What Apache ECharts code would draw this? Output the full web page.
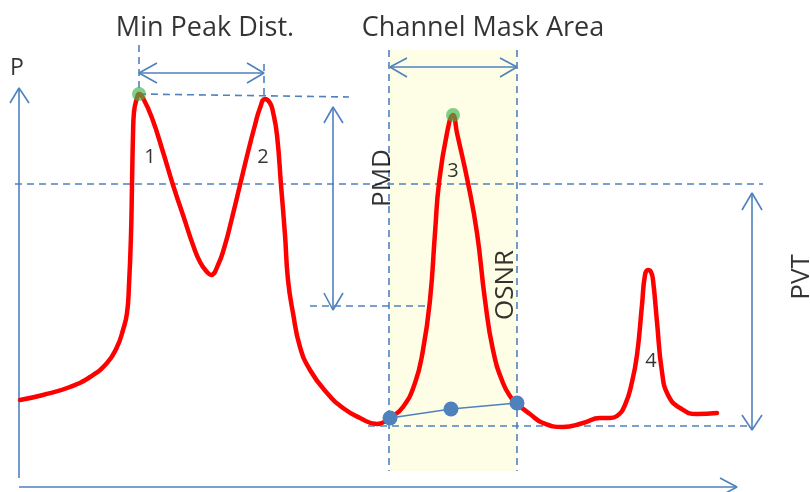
<!DOCTYPE html>
<html>
<head>
<meta charset="utf-8">
<script src="https://cdn.jsdelivr.net/npm/echarts@6/dist/echarts.min.js"></script>
<style>
html,body{margin:0;padding:0;background:#fff;}
#chart{width:810px;height:492px;}
</style>
</head>
<body>
<div id="chart"></div>
<script>
// Spectrum curve (x = wavelength units, y = power units)
var curveX = [20,43,70,90,107,117,123,127,129,131,132,133,134,137,139,143,152,163,173,184,193,200,207,211,218,225,232,240,248,255,260,265,270,273,277,281,285,288,293,300,310,327,343,360,377,391,403,415,423,430,435,439,447,453,457,468,477,485,493,503,512,517,530,543,563,583,600,610,617,625,632,637,642,645,648,651,653,657,662,668,680,697,717];
var curveY = [92,97,105,115,129,145,162,179,207,257,307,357,380,394,398,394,374,340,307,274,247,230,220,217,227,247,274,307,340,367,384,393,389,380,357,307,257,212,179,145,122,99,84,74,68,75,85,109,142,192,259,309,359,377,359,309,259,192,142,109,93,88,78,69,65,69,74,74,76,87,110,137,187,217,222,220,212,170,120,97,84,78,79];

// Noise interpolation points (OSNR)
var noiseX = [390,451,517];
var noiseY = [74,83,89];

// Detected peak tops
var peakX = [139,453];
var peakY = [398,377];

// Channel mask area
var maskX = [390,517];
var maskY = [21,442];

// Dashed guide lines: [x1,y1,x2,y2]
var dashUpper = [15,308,763,308];
var dashBase  = [368,66,752,66];
var dashPMD   = [310,186,427,186];
var dashPeak  = [139,398,349,395];
var dashV1    = [139,447,139,398];
var dashV2    = [264,428,264,395];
var dashMaskL = [389,442,389,21];
var dashMaskR = [517,442,517,21];

// Axis / arrow shafts: [x1,y1,x2,y2]
var axisY      = [19,14,19,404];
var axisX      = [19,5,737,5];
var arrowPeak  = [139,419,264,419];
var arrowMask  = [390,425,517,425];
var arrowPMD   = [333,385,333,182];
var arrowPVT   = [752,299,752,62];

// Arrow heads: polyline [arm, tip, arm]
var heads = [
  [[10,389],[19,404],[29,389]],
  [[720,14],[737,5],[720,-4]],
  [[157,429],[139,419],[157,409]],
  [[247,429],[264,419],[247,409]],
  [[407,434],[390,425],[407,415]],
  [[500,434],[517,425],[500,415]],
  [[324,369],[333,385],[343,369]],
  [[324,199],[333,182],[343,199]],
  [[742,282],[752,299],[762,282]],
  [[742,77],[752,62],[762,77]]
];

// Text labels
var bigText  = ['Min Peak Dist.','Channel Mask Area'];
var bigX     = [205,483];
var bigY     = [464,464];
var rotText  = ['PMD','OSNR','PVT'];
var rotX     = [383,506,802];
var rotY     = [314,207,215];
var numText  = ['1','2','3','4'];
var numX     = [150,263,453,651];
var numY     = [335,335,321,131];
var pText = ['P']; var pX = [17]; var pY = [424];

var BLUE = '#4F81BD';
var FONT = '"Open Sans", "Liberation Sans", sans-serif';

function seg(a){ return [[a[0],a[1]],[a[2],a[3]]]; }
function lineSeries(data, dashed, width, z){
  return {type:'line', data:data, symbol:'none', silent:true, clip:false, animation:false, z:z||2,
    lineStyle:{color:BLUE, width:width||1.5, type: dashed ? [7,5] : 'solid'}};
}
function textSeries(texts, xs, ys, size, rotate){
  return {type:'scatter', symbolSize:0, silent:true, animation:false, z:10,
    data: texts.map(function(t,i){ return {value:[xs[i], ys[i]], name:t}; }),
    label:{show:true, position:'inside', formatter:'{b}', color:'#000', fontSize:size, fontFamily:FONT, rotate:rotate||0}};
}

var series = [];
// mask area
series.push({type:'line', data:[], silent:true, animation:false, z:0,
  markArea:{silent:true, itemStyle:{color:'#FEFEE6'}, data:[[{coord:[maskX[0],maskY[1]]},{coord:[maskX[1],maskY[0]]}]]}});
[dashUpper,dashBase,dashPMD,dashPeak,dashV1,dashV2,dashMaskL,dashMaskR].forEach(function(a){ series.push(lineSeries(seg(a), true, 1.6, 1)); });
[axisY,axisX,arrowPeak,arrowMask,arrowPMD,arrowPVT].forEach(function(a){ series.push(lineSeries(seg(a), false, 1.6, 2)); });
heads.forEach(function(h){ series.push(lineSeries(h, false, 1.6, 2)); });
// red spectrum
series.push({type:'line', data: curveX.map(function(x,i){ return [x, curveY[i]]; }), symbol:'none', smooth:0.5,
  silent:true, clip:false, animation:false, z:5, lineStyle:{color:'#FF0000', width:4.5, join:'round', cap:'round'}});
// noise line + points
series.push({type:'line', data: noiseX.map(function(x,i){ return [x, noiseY[i]]; }), symbol:'circle', symbolSize:15,
  showSymbol:true, silent:true, animation:false, z:6, lineStyle:{color:BLUE, width:1.5}, itemStyle:{color:BLUE}});
// peak markers
series.push({type:'scatter', data: peakX.map(function(x,i){ return [x, peakY[i]]; }), symbolSize:14,
  silent:true, animation:false, z:7, itemStyle:{color:'#3CB44B', opacity:0.65}});
series.push(textSeries(bigText,bigX,bigY,27,0));
series.push(textSeries(rotText,rotX,rotY,26,90));
series.push(textSeries(numText,numX,numY,20,0));
series.push(textSeries(pText,pX,pY,23,0));

var chart = echarts.init(document.getElementById('chart'), null, {renderer:'canvas'});
chart.setOption({
  animation:false,
  grid:{left:0,right:0,top:0,bottom:0},
  xAxis:{type:'value', min:0, max:810, show:false},
  yAxis:{type:'value', min:0, max:492, show:false},
  series: series
});
</script>
</body>
</html>
